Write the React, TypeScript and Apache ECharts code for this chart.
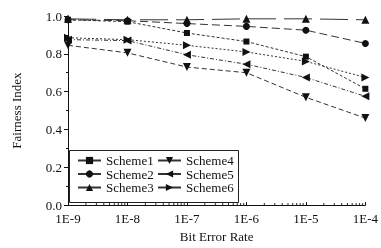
import React, { useEffect, useRef } from "react";
import * as echarts from "echarts";

const categories = [1e-9, 1e-8, 1e-7, 1e-6, 1e-5, 1e-4];
const xTickLabels = ["1E-9", "1E-8", "1E-7", "1E-6", "1E-5", "1E-4"];
const yTickLabels = ["0.0", "0.2", "0.4", "0.6", "0.8", "1.0"];
const seriesNames = ["Scheme1", "Scheme2", "Scheme3", "Scheme4", "Scheme5", "Scheme6"];
const scheme1 = [0.98, 0.97, 0.91, 0.865, 0.785, 0.615];
const scheme2 = [0.98, 0.975, 0.96, 0.945, 0.925, 0.855];
const scheme3 = [0.985, 0.98, 0.98, 0.985, 0.985, 0.98];
const scheme4 = [0.845, 0.805, 0.73, 0.7, 0.57, 0.46];
const scheme5 = [0.875, 0.87, 0.795, 0.745, 0.675, 0.575];
const scheme6 = [0.885, 0.875, 0.845, 0.81, 0.76, 0.675];
const minorMultipliers = [2, 3, 4, 5, 6, 7, 8, 9];

const FONT = "'Liberation Serif', 'DejaVu Serif', serif";

export default function App() {
  const ref = useRef<HTMLDivElement>(null);
  useEffect(() => {
    document.body.style.margin = "0";
    const chart = echarts.init(ref.current!, null, { renderer: "svg" });
    const allValues = [scheme1, scheme2, scheme3, scheme4, scheme5, scheme6];
    const symbols = [
      "rect",
      "circle",
      "triangle",
      "path://M0,0L10,0L5,10Z",
      "path://M10,0L10,10L0,5Z",
      "path://M0,0L10,5L0,10Z",
    ];
    const sizes = [6, 7, 8, 8, 8, 8];
    const dashes: any[] = [[3, 2], [8, 4], [28, 8], [5, 3], [4, 2, 1, 2], [2, 2]];
    const minorTicks: number[][] = [];
    for (let i = 0; i < categories.length - 1; i++) {
      for (const m of minorMultipliers) minorTicks.push([categories[i] * m, 0]);
    }
    const series: any[] = seriesNames.map((name, i) => ({
      name,
      type: "line",
      data: categories.map((c, j) => [c, allValues[i][j]]),
      symbol: symbols[i],
      symbolSize: sizes[i],
      itemStyle: { color: "#111" },
      lineStyle: { color: "#333", width: 1, type: dashes[i] },
      z: 3,
    }));
    series.push({
      type: "custom",
      name: "minor",
      data: minorTicks,
      clip: false,
      silent: true,
      renderItem: (params: any, api: any) => {
        const p = api.coord([api.value(0), 0]);
        return {
          type: "line",
          shape: { x1: p[0], y1: p[1], x2: p[0], y2: p[1] - 2 },
          style: { stroke: "#222", lineWidth: 1 },
        };
      },
    });
    const legendCommon = {
      orient: "vertical",
      itemWidth: 23,
      itemHeight: 9,
      itemGap: 0.5,
      lineStyle: { type: "solid" },
      textStyle: { fontFamily: FONT, fontSize: 13, lineHeight: 12.5, color: "#111" },
      top: 154,
      padding: 0,
    };
    chart.setOption({
      animation: false,
      grid: { left: 68, right: 8, top: 16, bottom: 40 },
      xAxis: {
        type: "log",
        logBase: 10,
        min: 1e-9,
        max: 1e-4,
        name: "Bit Error Rate",
        nameLocation: "middle",
        nameGap: 19,
        nameTextStyle: { fontFamily: FONT, fontSize: 13, color: "#111" },
        axisLine: { lineStyle: { color: "#111", width: 1 } },
        axisTick: { show: true, inside: true, length: 3, lineStyle: { color: "#111" } },
        splitLine: { show: false },
        minorTick: { show: false },
        axisLabel: {
          fontFamily: FONT,
          fontSize: 13,
          color: "#111",
          margin: 7,
          formatter: (v: number) => xTickLabels[Math.round(Math.log10(v)) + 9] ?? "",
        },
      },
      yAxis: {
        type: "value",
        min: 0,
        max: 1,
        interval: 0.2,
        name: "Fairness Index",
        nameLocation: "middle",
        nameGap: 45,
        nameTextStyle: { fontFamily: FONT, fontSize: 13, color: "#111" },
        axisLine: { show: true, lineStyle: { color: "#111", width: 1 } },
        axisTick: { show: true, length: 4, lineStyle: { color: "#111" } },
        minorTick: { show: true, splitNumber: 2, length: 2, lineStyle: { color: "#111" } },
        splitLine: { show: false },
        axisLabel: {
          fontFamily: FONT,
          fontSize: 13,
          color: "#111",
          margin: 6,
          formatter: (v: number) => yTickLabels[Math.round(v * 5)] ?? "",
        },
      },
      legend: [
        { ...legendCommon, left: 77, data: seriesNames.slice(0, 3) },
        { ...legendCommon, left: 157, data: seriesNames.slice(3, 6) },
      ],
      graphic: [
        {
          type: "rect",
          shape: { x: 69.5, y: 150.5, width: 169, height: 52 },
          style: { fill: "none", stroke: "#222", lineWidth: 1 },
          z: 10,
        },
      ],
      series,
    });
    return () => chart.dispose();
  }, []);
  return <div ref={ref} style={{ position: "fixed", left: 0, top: 0, width: 381, height: 248 }} />;
}
